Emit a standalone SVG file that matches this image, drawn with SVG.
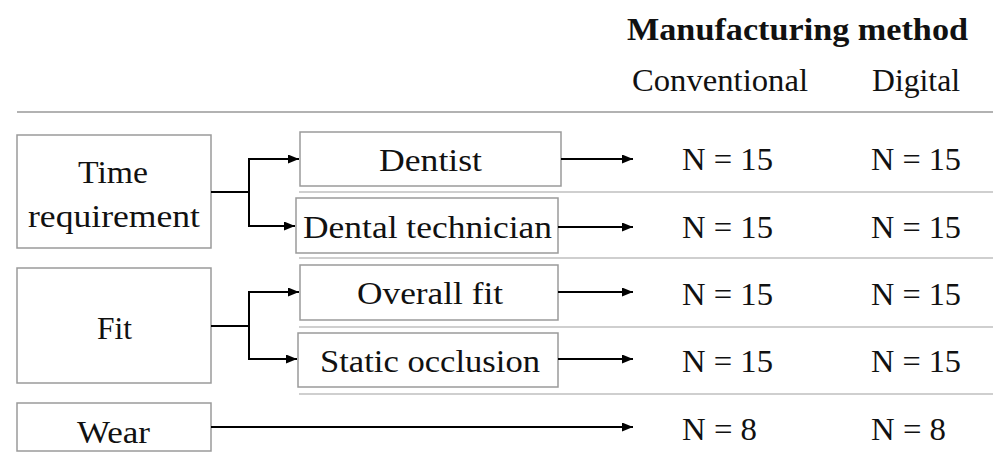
<svg xmlns="http://www.w3.org/2000/svg" width="993" height="460" viewBox="0 0 993 460">
<style>
text{font-family:"Liberation Serif","DejaVu Serif",serif;font-size:32px;fill:#111}
.b{font-weight:bold}
.box{fill:#fff;stroke:#9a9a9a;stroke-width:1.5}
.sep{stroke:#cfcfcf;stroke-width:2}
.top{stroke:#999;stroke-width:1.5}
.c{fill:none;stroke:#000;stroke-width:2}
</style>
<defs>
<marker id="ah" markerUnits="userSpaceOnUse" markerWidth="11" markerHeight="9" refX="11" refY="4.5" orient="auto">
<path d="M0,0 L11,4.5 L0,9 z" fill="#000"/>
</marker>
</defs>
<rect width="993" height="460" fill="#fff"/>
<g id="header">
<text class="b" x="627" y="40" textLength="341" lengthAdjust="spacingAndGlyphs">Manufacturing method</text>
<text x="632" y="91" textLength="176" lengthAdjust="spacingAndGlyphs">Conventional</text>
<text x="872" y="91" textLength="88" lengthAdjust="spacingAndGlyphs">Digital</text>
<line class="top" x1="17" y1="112" x2="993" y2="112"/>
</g>
<g id="separators">
<line class="sep" x1="299" y1="192" x2="993" y2="192"/>
<line class="sep" x1="299" y1="258" x2="993" y2="258"/>
<line class="sep" x1="299" y1="327" x2="993" y2="327"/>
<line class="sep" x1="299" y1="394" x2="993" y2="394"/>
</g>
<g id="time">
<rect class="box" x="17" y="135" width="194" height="113"/>
<text x="78" y="183" textLength="70" lengthAdjust="spacingAndGlyphs">Time</text>
<text x="28" y="227" textLength="172" lengthAdjust="spacingAndGlyphs">requirement</text>
</g>
<g id="fit">
<rect class="box" x="17" y="268" width="194" height="115"/>
<text x="97" y="339" textLength="35" lengthAdjust="spacingAndGlyphs">Fit</text>
</g>
<g id="wear">
<rect class="box" x="17" y="403" width="194" height="48"/>
<text x="77" y="443" textLength="73" lengthAdjust="spacingAndGlyphs">Wear</text>
</g>
<g id="dentist">
<rect class="box" x="300" y="132" width="261" height="54"/>
<text x="379" y="171" textLength="103" lengthAdjust="spacingAndGlyphs">Dentist</text>
</g>
<g id="dentaltech">
<rect class="box" x="296" y="198" width="262" height="55"/>
<text x="303" y="238" textLength="249" lengthAdjust="spacingAndGlyphs">Dental technician</text>
</g>
<g id="overallfit">
<rect class="box" x="300" y="265" width="258" height="55"/>
<text x="357" y="304" textLength="146" lengthAdjust="spacingAndGlyphs">Overall fit</text>
</g>
<g id="static">
<rect class="box" x="298" y="333" width="260" height="54"/>
<text x="320" y="372" textLength="220" lengthAdjust="spacingAndGlyphs">Static occlusion</text>
</g>
<g id="counts">
<text x="682" y="170" textLength="91" lengthAdjust="spacingAndGlyphs">N = 15</text>
<text x="871" y="170" textLength="90" lengthAdjust="spacingAndGlyphs">N = 15</text>
<text x="682" y="238" textLength="91" lengthAdjust="spacingAndGlyphs">N = 15</text>
<text x="871" y="238" textLength="90" lengthAdjust="spacingAndGlyphs">N = 15</text>
<text x="682" y="305" textLength="91" lengthAdjust="spacingAndGlyphs">N = 15</text>
<text x="871" y="305" textLength="90" lengthAdjust="spacingAndGlyphs">N = 15</text>
<text x="682" y="372" textLength="91" lengthAdjust="spacingAndGlyphs">N = 15</text>
<text x="871" y="372" textLength="90" lengthAdjust="spacingAndGlyphs">N = 15</text>
<text x="682" y="440" textLength="75" lengthAdjust="spacingAndGlyphs">N = 8</text>
<text x="871" y="440" textLength="75" lengthAdjust="spacingAndGlyphs">N = 8</text>
</g>
<g id="connectors">
<path class="c" d="M211,192 H249 M249,159 V226"/>
<path class="c" d="M248,159 H299" marker-end="url(#ah)"/>
<path class="c" d="M248,226 H295" marker-end="url(#ah)"/>
<path class="c" d="M211,326 H249 M249,292 V359"/>
<path class="c" d="M248,292 H299" marker-end="url(#ah)"/>
<path class="c" d="M248,359 H297" marker-end="url(#ah)"/>
<path class="c" d="M561,159 H633" marker-end="url(#ah)"/>
<path class="c" d="M558,227 H633" marker-end="url(#ah)"/>
<path class="c" d="M558,292 H633" marker-end="url(#ah)"/>
<path class="c" d="M558,359 H633" marker-end="url(#ah)"/>
<path class="c" d="M211,427 H633" marker-end="url(#ah)"/>
</g>
</svg>
